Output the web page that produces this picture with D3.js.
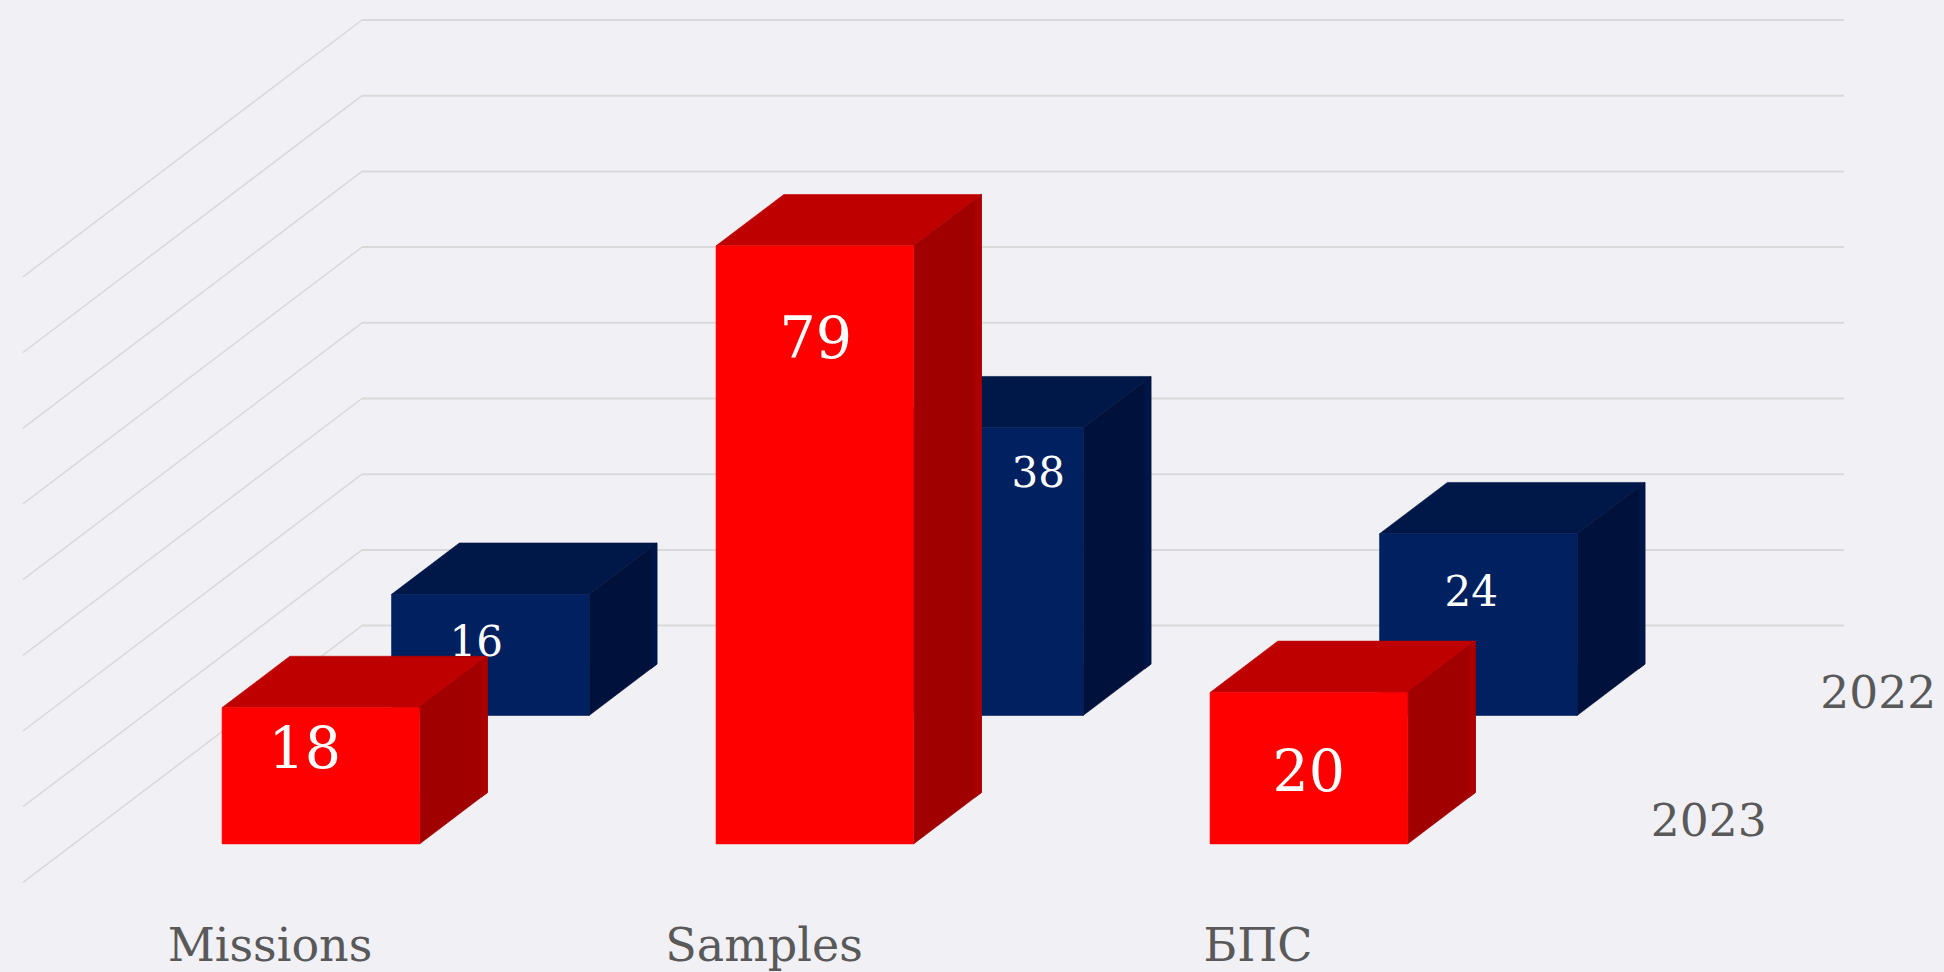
<!DOCTYPE html>
<html>
<head>
<meta charset="utf-8">
<script src="https://cdn.jsdelivr.net/npm/d3@7"></script>
<style>
  html, body { margin: 0; padding: 0; background: #f1f0f5; overflow: hidden; }
  text { font-family: "DejaVu Serif", serif; }
</style>
</head>
<body>
<svg id="chart" width="1944" height="972"></svg>
<script>
// Values
const categories = ["Missions", "Samples", "БПС"];
const years = ["2023", "2022"]; // front to back
const values2023 = [18, 79, 20];
const values2022 = [16, 38, 24];

// Hand placed labels in the original, offsets from the centre of the front face
const labelShift2023 = [[-16, 45], [1, 97], [0, 84]];
const labelShift2022 = [[-14, 51], [54, 48], [-7, 61]];

const colors = {
  "2023": { front: "#ff0000", top: "#bf0000", side: "#a00000", rim: "#ad0000" },
  "2022": { front: "#002060", top: "#001848", side: "#00123c", rim: "#001646" },
};

const WIDTH = 1944;
const HEIGHT = 972;
const DEPTH_X = 339; // floor front edge to back wall
const DEPTH_Y = 256.8;
const LEFT = 23;
const RIGHT = 1505;
const RIM = 0.018; // lighter strip at the back of the side faces

const svg = d3.select("#chart");

const x = d3.scaleBand().domain(categories).range([LEFT, RIGHT])
  .paddingInner(0.6).paddingOuter(0.3);
const z = d3.scaleBand().domain(years).range([0, 1])
  .paddingInner(0.6).paddingOuter(0.3);
// y is measured on the back wall
const y = d3.scaleLinear().domain([0, 80]).range([625.6, 20]);

// x on the front edge, v on the value axis, d is depth 0..1
const project = (px, v, d) => [px + d * DEPTH_X, y(v) + (1 - d) * DEPTH_Y];
const poly = (pts) => d3.line()(pts) + "Z";

// Grid: diagonal on the left wall, then along the back wall
const grid = svg.append("g").attr("fill", "none").attr("stroke", "#d9d9d9");
y.ticks(8).forEach((t) => {
  grid.append("path").attr("stroke-width", 1.5)
    .attr("d", d3.line()([project(LEFT, t, 0), project(LEFT, t, 1)]));
  grid.append("path").attr("stroke-width", 2)
    .attr("d", d3.line()([project(LEFT, t, 1), project(RIGHT, t, 1)]));
});

// Back series first so the red boxes sit on top
const series = [
  { year: "2022", values: values2022, shift: labelShift2022, size: 42 },
  { year: "2023", values: values2023, shift: labelShift2023, size: 57 },
];

// Same colour stroke closes the hairline seams between faces
const face = (g, color, pts) => g.append("path")
  .attr("fill", color).attr("stroke", color).attr("stroke-width", 0.6)
  .attr("d", poly(pts));

series.forEach((s) => {
  const g = svg.append("g");
  const c = colors[s.year];
  const d0 = z(s.year);
  const d1 = d0 + z.bandwidth();
  s.values.forEach((v, i) => {
    const x0 = x(categories[i]);
    const x1 = x0 + x.bandwidth();
    face(g, c.top, [project(x0, v, d0), project(x1, v, d0), project(x1, v, d1), project(x0, v, d1)]);
    face(g, c.side, [project(x1, 0, d0), project(x1, 0, d1), project(x1, v, d1), project(x1, v, d0)]);
    face(g, c.rim, [project(x1, 0, d1 - RIM), project(x1, 0, d1), project(x1, v, d1), project(x1, v, d1 - RIM)]);
    face(g, c.front, [project(x0, 0, d0), project(x1, 0, d0), project(x1, v, d0), project(x0, v, d0)]);
  });
});

// Value labels go over all the boxes
series.forEach((s) => {
  const d0 = z(s.year);
  s.values.forEach((v, i) => {
    const [fx, fy] = project(x(categories[i]) + x.bandwidth() / 2, v, d0);
    svg.append("text")
      .attr("x", fx + s.shift[i][0])
      .attr("y", fy + s.shift[i][1])
      .attr("text-anchor", "middle")
      .attr("dominant-baseline", "middle")
      .attr("font-size", s.size)
      .attr("fill", "#ffffff")
      .text(v);
  });
});

// Category axis along the front edge
svg.append("g").selectAll("text").data(categories).join("text")
  .attr("x", (d) => x(d) + x.bandwidth() / 2)
  .attr("y", 961)
  .attr("text-anchor", "middle")
  .attr("font-size", 46)
  .attr("fill", "#595959")
  .text((d) => d);

// Depth axis along the right of the floor
svg.append("g").selectAll("text").data(years).join("text")
  .attr("x", (d) => project(RIGHT, 0, z(d) + z.bandwidth() / 2)[0] + 119)
  .attr("y", (d) => project(RIGHT, 0, z(d) + z.bandwidth() / 2)[1] + 18)
  .attr("text-anchor", "middle")
  .attr("font-size", 45.5)
  .attr("fill", "#595959")
  .text((d) => d);
</script>
</body>
</html>
